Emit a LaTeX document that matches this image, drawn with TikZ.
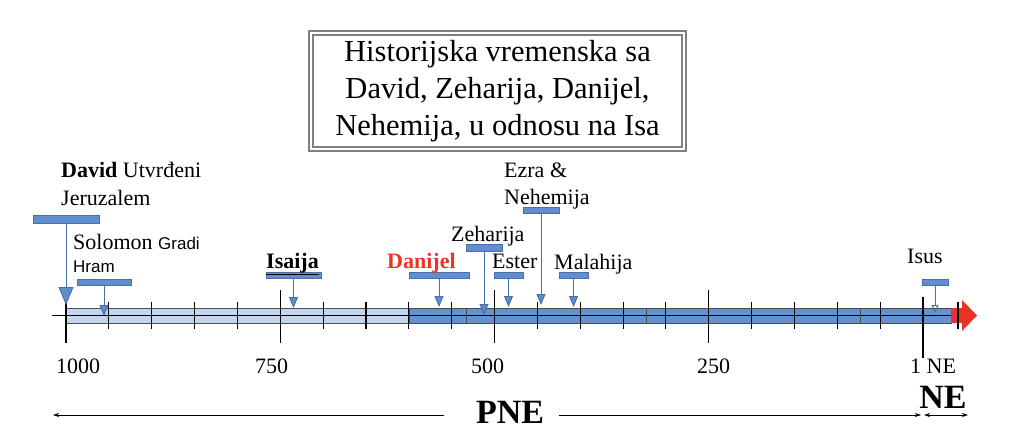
\documentclass[tikz,border=0pt]{standalone}
\usepackage{fontspec}
\setmainfont{Liberation Serif}
\newfontfamily\arialfont{Liberation Sans}
\usetikzlibrary{positioning,arrows.meta}

\definecolor{barlight}{RGB}{196,214,238}
\definecolor{bardark}{RGB}{100,146,207}
\definecolor{calfill}{RGB}{98,142,206}
\definecolor{calline}{RGB}{72,112,172}
\definecolor{arrowred}{RGB}{232,52,38}

\tikzset{
  callbar/.style={draw=calline, fill=calfill, line width=0.8pt, inner sep=0pt, minimum height=6pt},
  callline/.style={draw=calline, line width=1pt, -{Triangle[width=9pt,length=11pt,fill=calfill]}},
  lbl/.style={anchor=base west, inner sep=0pt, font=\fontsize{22}{26}\selectfont},
  yearlbl/.style={anchor=base west, inner sep=0pt, font=\fontsize{22}{26}\selectfont},
  tick/.style={line width=1.1pt},
  timearrow/.style={line width=0.8pt, -{Stealth[length=6pt,width=4pt]}},
}

\begin{document}
\begin{tikzpicture}[x=1pt,y=-1pt]
\useasboundingbox (0,0) rectangle (1024,441);

% naslov
\node[draw=gray, double=white, double distance=2.5pt, line width=1.3pt, align=center,
  minimum width=373pt, minimum height=116pt, inner sep=0pt,
  font=\fontsize{30.5}{37}\selectfont] (title) at (497.5,91)
  {Historijska vremenska sa\\David, Zeharija, Danijel,\\Nehemija, u odnosu na Isa};

% vremenska traka
\draw[draw=gray!60!black, fill=barlight, line width=0.8pt] (66,308) rectangle (409,323);
\foreach \a/\b in {409/466, 466/646, 646/860, 860/951}
  \draw[draw=gray!60!black, fill=bardark, line width=0.8pt] (\a,308) rectangle (\b,323);
\fill[arrowred] (951,308) -- (962,308) -- (962,300) -- (977,315.5) -- (962,331) -- (962,323) -- (951,323) -- cycle;
\draw[line width=1.2pt] (52,315.5) -- (951,315.5);

% podjele
\foreach \i in {1,2,3,4,6,7,8,9,11,12,13,14,16,17,18,19}
  \draw[tick] ({66+\i*42.85},302) -- ({66+\i*42.85},329);
\foreach \i in {0,5,10,15}
  \draw[tick] ({66+\i*42.85},290) -- ({66+\i*42.85},343);
\draw[tick] (923,297) -- (923,358);
\draw[tick] (958,302) -- (958,329);

% godine
\node[yearlbl] (y1000) at (56,373) {1000};
\node[yearlbl] (y750) at (255,373) {750};
\node[yearlbl] (y500) at (471,373) {500};
\node[yearlbl] (y250) at (697,373) {250};
\node[yearlbl] (y1) at (910,373) {1 NE};

% oznake
\node[callbar, minimum width=66pt, minimum height=8pt] (david) at (66,219) {};
\node[callbar, minimum width=54pt] (solomon) at (104,282) {};
\node[callbar, minimum width=55pt] (isaija) at (293.5,275) {};
\node[callbar, minimum width=60pt] (danijel) at (439,275) {};
\node[callbar, minimum width=36pt, minimum height=7pt] (zeharija) at (484,247.5) {};
\node[callbar, minimum width=29pt] (ester) at (508.5,275) {};
\node[callbar, minimum width=36pt] (ezra) at (541,210.5) {};
\node[callbar, minimum width=29pt] (malahija) at (573.5,275) {};
\node[callbar, minimum width=26pt] (isus) at (935,282) {};

\coordinate (tDavid) at (66,305);
\coordinate (tSolomon) at (104,316);
\coordinate (tIsaija) at (293.5,308);
\coordinate (tDanijel) at (439,307);
\coordinate (tZeharija) at (484,315);
\coordinate (tEster) at (508.5,307);
\coordinate (tEzra) at (541,305);
\coordinate (tMalahija) at (573.5,307);
\coordinate (tIsus) at (935,313);

\draw[callline, -{Triangle[width=15pt,length=18pt,fill=calfill]}] (david.south) -- (tDavid);
\draw[callline] (solomon.south) -- (tSolomon);
\draw[callline] (isaija.south) -- (tIsaija);
\draw[callline] (danijel.south) -- (tDanijel);
\draw[callline] (zeharija.south) -- (tZeharija);
\draw[callline] (ester.south) -- (tEster);
\draw[callline] (ezra.south) -- (tEzra);
\draw[callline] (malahija.south) -- (tMalahija);
\draw[callline, -{Triangle[open,width=7pt,length=8pt]}] (isus.south) -- (tIsus);

% tekstovi
\node[lbl] (davidA) at (61,177) {\textbf{David} Utvrđeni};
\node[lbl] (davidB) at (61,205) {Jeruzalem};
\node[lbl] (solomonA) at (73,249) {Solomon {\arialfont\fontsize{17}{20}\selectfont Gradi}};
\node[lbl, font=\arialfont\fontsize{17}{20}\selectfont] (solomonB) at (73,272) {Hram};
\node[lbl] (isaijaT) at (266,268) {\underline{\textbf{Isaija}}};
\node[lbl, text=arrowred] (danijelT) at (387,268) {\textbf{Danijel}};
\node[lbl] (zeharijaT) at (451,241) {Zeharija};
\node[lbl] (esterT) at (492,268) {Ester};
\node[lbl] (ezraA) at (504,177) {Ezra \&};
\node[lbl] (ezraB) at (504,204) {Nehemija};
\node[lbl] (malahijaT) at (554,269) {Malahija};
\node[lbl] (isusT) at (907,263) {Isus};

% era
\node[anchor=base, inner sep=0pt, font=\fontsize{34}{40}\selectfont\bfseries] (pne) at (510,423) {PNE};
\node[anchor=base, inner sep=0pt, font=\fontsize{34}{40}\selectfont\bfseries] (ne) at (943,408) {NE};
\coordinate (pneLs) at (444,415);
\coordinate (pneL) at (53,415);
\coordinate (pneRs) at (559,415);
\coordinate (pneR) at (921,415);
\coordinate (neL) at (924,415);
\coordinate (neR) at (968,415);
\draw[timearrow] (pneLs) -- (pneL);
\draw[timearrow] (pneRs) -- (pneR);
\draw[timearrow, {Stealth[length=6pt,width=4pt]}-{Stealth[length=6pt,width=4pt]}] (neL) -- (neR);
\end{tikzpicture}
\end{document}
